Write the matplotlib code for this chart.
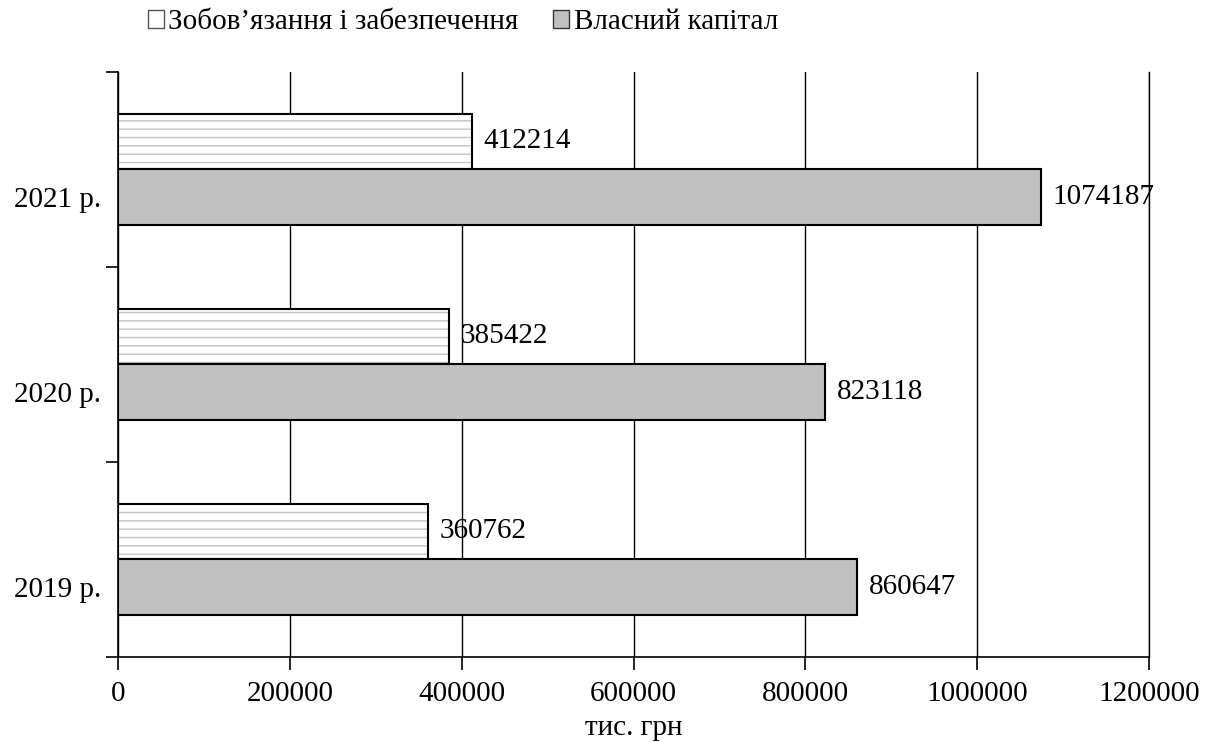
import matplotlib
matplotlib.use("Agg")
import matplotlib.pyplot as plt
from matplotlib.patches import Patch
import numpy as np

plt.rcParams['font.family'] = ['Liberation Serif', 'DejaVu Serif']

categories = ["2019 р.", "2020 р.", "2021 р."]
liabilities = [360762, 385422, 412214]
equity = [860647, 823118, 1074187]
series_names = ["Зобов’язання і забезпечення", "Власний капітал"]
xticks = [0, 200000, 400000, 600000, 800000, 1000000, 1200000]
xlabel = "тис. грн"

FS = 21

fig = plt.figure(figsize=(12.14, 7.42), dpi=100)
ax = fig.add_axes([0.0972, 0.1146, 0.8493, 0.7884])

y = np.arange(len(categories))
h = 0.287
yl = y + h / 2
ye = y - h / 2

# hatched liabilities bars
ax.barh(yl, liabilities, height=h, color='white', edgecolor='#c4c4c4',
        hatch='--', linewidth=0, zorder=3)
ax.barh(yl, liabilities, height=h, fill=False, edgecolor='black',
        linewidth=1.5, zorder=4)
ax.barh(ye, equity, height=h, color='#c0c0c0', edgecolor='black',
        linewidth=1.5, zorder=4)

for yy, v in zip(yl, liabilities):
    ax.text(v + 13000, yy, str(v), va='center', ha='left', fontsize=FS)
for yy, v in zip(ye, equity):
    ax.text(v + 13000, yy, str(v), va='center', ha='left', fontsize=FS)

ax.set_xlim(0, 1200000)
ax.set_ylim(-0.5, len(categories) - 0.5)
ax.set_xticks(xticks)
ax.set_xticklabels([str(t) for t in xticks], fontsize=FS)
ax.set_yticks(ye)
ax.set_yticklabels(categories, fontsize=FS)
ax.tick_params(axis='y', which='major', length=0, pad=12)
ax.set_yticks(np.arange(-0.5, len(categories)), minor=True)
ax.tick_params(axis='y', which='minor', length=9, width=1.2, direction='out')
ax.tick_params(axis='x', length=9, width=1.2, direction='out', pad=8)

ax.grid(axis='x', color='black', linewidth=1.0, zorder=0)
ax.axvline(1200000, color='black', linewidth=1.0, zorder=0, clip_on=False)
ax.set_axisbelow(True)
for s in ['top', 'right']:
    ax.spines[s].set_visible(False)
for s in ['left', 'bottom']:
    ax.spines[s].set_linewidth(1.2)

ax.set_xlabel(xlabel, fontsize=FS, labelpad=6)

handles = [Patch(facecolor='white', edgecolor='#555555', linewidth=1.0),
           Patch(facecolor='#c0c0c0', edgecolor='#333333', linewidth=1.0)]
fig.legend(handles, series_names, loc='center left', bbox_to_anchor=(0.112, 0.97),
           ncol=2, frameon=False, fontsize=FS, handlelength=0.55, handleheight=0.55,
           handletextpad=0.15, columnspacing=1.2, borderaxespad=0)

fig.savefig("out.png", dpi=100)
